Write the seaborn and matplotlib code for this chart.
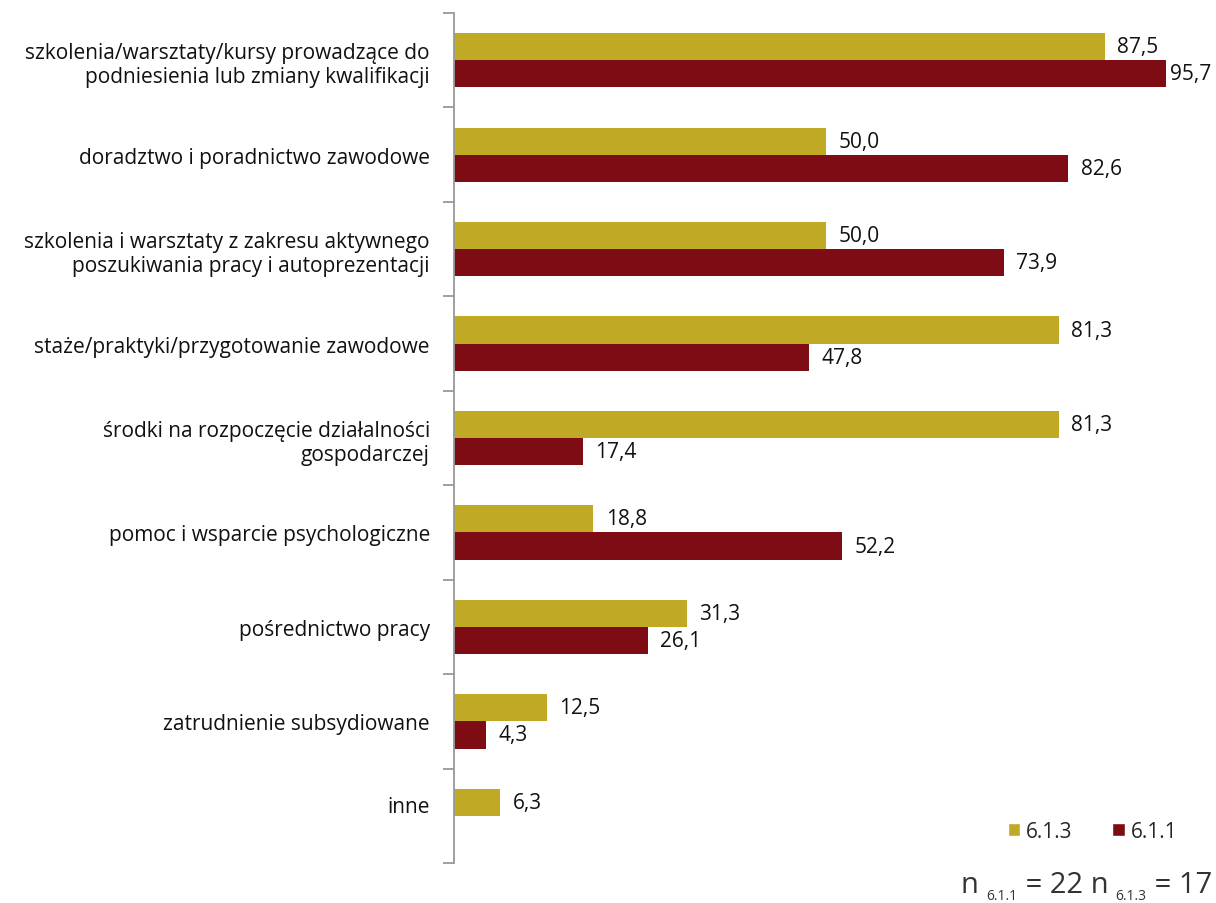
import matplotlib
matplotlib.use("Agg")
import matplotlib.pyplot as plt
import matplotlib.transforms as mtransforms
import seaborn as sns
import pandas as pd
import numpy as np
from matplotlib.patches import Patch

categories = [
    "szkolenia/warsztaty/kursy prowadzące do\npodniesienia lub zmiany kwalifikacji",
    "doradztwo i poradnictwo zawodowe",
    "szkolenia i warsztaty z zakresu aktywnego\nposzukiwania pracy i autoprezentacji",
    "staże/praktyki/przygotowanie zawodowe",
    "środki na rozpoczęcie działalności\ngospodarczej",
    "pomoc i wsparcie psychologiczne",
    "pośrednictwo pracy",
    "zatrudnienie subsydiowane",
    "inne",
]
series_names = ["6.1.3", "6.1.1"]
values_613 = [87.5, 50.0, 50.0, 81.3, 81.3, 18.8, 31.3, 12.5, 6.3]
values_611 = [95.7, 82.6, 73.9, 47.8, 17.4, 52.2, 26.1, 4.3, np.nan]
colors = {"6.1.3": "#BFA925", "6.1.1": "#7D0C14"}
note_parts = [("n ", False), ("6.1.1", True), (" = 22 n ", False), ("6.1.3", True), (" = 17", False)]

sns.set_theme(style="white")
plt.rcParams["font.family"] = ["Open Sans", "DejaVu Sans"]

df = pd.DataFrame({
    "cat": categories * 2,
    "series": [series_names[0]] * len(categories) + [series_names[1]] * len(categories),
    "value": values_613 + values_611,
})

W, H = 1216, 904
fig = plt.figure(figsize=(W / 100, H / 100), dpi=100)
ax = fig.add_axes([0.373, 0.0442, 0.612, 0.9403])
sns.barplot(data=df, y="cat", x="value", hue="series", order=categories,
            hue_order=series_names, palette=colors, orient="h", width=0.575,
            ax=ax, legend=False, saturation=1, linewidth=0, edgecolor="none")

for cont in ax.containers:
    labels = ["" if np.isnan(v) else f"{v:.1f}".replace(".", ",") for v in cont.datavalues]
    texts = ax.bar_label(cont, labels=labels, padding=9, fontsize=15, color="#111111")
    for t, v in zip(texts, cont.datavalues):
        if not np.isnan(v) and v > 90:
            t.xyann = (3, t.xyann[1])

ax.set_xlim(0, 100)
ax.set_ylim(len(categories) - 0.5, -0.5)
ax.set_xlabel("")
ax.set_ylabel("")
ax.set_xticks([])
ax.set_yticks(range(len(categories)))
ax.set_yticklabels(categories, fontsize=15, color="#111111", ha="right", multialignment="right")
ax.tick_params(axis="y", which="major", length=0, pad=17)
ax.set_yticks(np.arange(-0.5, len(categories), 1), minor=True)
ax.tick_params(axis="y", which="minor", length=8, color="#999999", width=1.3, direction="out", left=True)
for s in ["top", "right", "bottom"]:
    ax.spines[s].set_visible(False)
ax.spines["left"].set_color("#999999")
ax.spines["left"].set_linewidth(1.3)

# the last category label sits level with its single bar
last_label = ax.get_yticklabels()[-1]
last_label.set_transform(last_label.get_transform() +
                         mtransforms.ScaledTranslation(0, 0.12, fig.dpi_scale_trans))

handles = [Patch(facecolor=colors[s], label=s) for s in series_names]
fig.legend(handles=handles, loc="center right", bbox_to_anchor=(0.984, 0.079), ncol=2,
           frameon=False, fontsize=15, handlelength=0.6, handleheight=0.6,
           handletextpad=0.3, columnspacing=1.9)

# footnote with subscripts, composed piece by piece and right-aligned
renderer = fig.canvas.get_renderer()
pieces = []
total = 0.0
for txt, sub in note_parts:
    t = fig.text(0, (4 if sub else 11) / H, txt, ha="left", va="baseline",
                 fontsize=10 if sub else 21, color="#333333")
    w = t.get_window_extent(renderer).width
    pieces.append((t, w))
    total += w
x = 1212 - total
for t, w in pieces:
    t.set_x(x / W)
    x += w

fig.savefig("out.png", dpi=100)
